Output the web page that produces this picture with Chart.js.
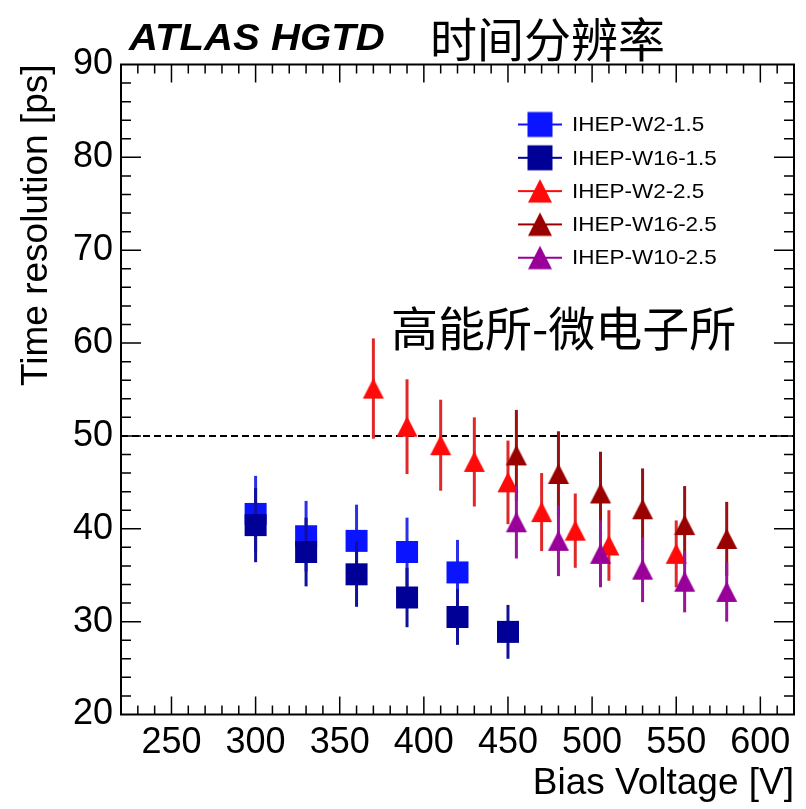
<!DOCTYPE html>
<html>
<head>
<meta charset="utf-8">
<script src="https://cdn.jsdelivr.net/npm/chart.js@4.4.0/dist/chart.umd.min.js"></script>
<style>
  html, body { margin: 0; padding: 0; background: #fff; }
  #wrap { width: 806px; height: 809px; }
</style>
</head>
<body>
<div id="wrap"><canvas id="myChart" width="806" height="809"></canvas></div>
<script>
  /////////////////////////////////////
 /*              DATA               */
/////////////////////////////////////

var seriesNames = ["IHEP-W2-1.5", "IHEP-W16-1.5", "IHEP-W2-2.5", "IHEP-W16-2.5", "IHEP-W10-2.5"];

var w2_15_V = [300, 330, 360, 390, 420];
var w2_15_T = [41.6, 39.2, 38.7, 37.5, 35.3];
var w2_15_E = [4.1, 3.8, 3.9, 3.7, 3.5];

var w16_15_V = [300, 330, 360, 390, 420, 450];
var w16_15_T = [40.4, 37.5, 35.1, 32.6, 30.5, 28.9];
var w16_15_E = [4.0, 3.7, 3.5, 3.2, 3.0, 2.9];

var w2_25_V = [370, 390, 410, 430, 450, 470, 490, 510, 550];
var w2_25_T = [55.1, 51.0, 49.0, 47.2, 45.0, 41.8, 39.8, 38.2, 37.3];
var w2_25_E = [5.4, 5.1, 4.9, 4.8, 4.5, 4.2, 4.0, 3.8, 3.6];

var w16_25_V = [455, 480, 505, 530, 555, 580];
var w16_25_T = [47.9, 45.9, 43.8, 42.1, 40.4, 38.9];
var w16_25_E = [4.9, 4.6, 4.5, 4.4, 4.2, 4.0];

var w10_25_V = [455, 480, 505, 530, 555, 580];
var w10_25_T = [40.7, 38.7, 37.3, 35.6, 34.3, 33.2];
var w10_25_E = [3.9, 3.8, 3.6, 3.5, 3.3, 3.2];

var xTicks = [250, 300, 350, 400, 450, 500, 550, 600];
var yTicks = [20, 30, 40, 50, 60, 70, 80, 90];
var limitLine = 50;

  /////////////////////////////////////
 /*         MARKER IMAGES           */
/////////////////////////////////////

function makeMarker(shape, color, withLine, big) {
  var s = big ? 12.5 : 11;
  var w = withLine ? 44 : 26, h = 28;
  var c = document.createElement('canvas');
  c.width = w; c.height = h;
  var g = c.getContext('2d');
  var cx = w / 2, cy = h / 2;
  if (withLine) {
    g.strokeStyle = color;
    g.lineWidth = 2;
    g.beginPath(); g.moveTo(0, cy); g.lineTo(w, cy); g.stroke();
  }
  g.fillStyle = color;
  if (shape == 'square') {
    g.fillRect(cx - s, cy - s, 2 * s, 2 * s);
  } else {
    g.beginPath();
    g.moveTo(cx, cy - s + 0.5);
    g.lineTo(cx + s - 0.5, cy + s - 1);
    g.lineTo(cx - s + 0.5, cy + s - 1);
    g.closePath();
    g.fill();
  }
  return c;
}

var colors = ['#0a14ff', '#000096', '#ff0a0a', '#990000', '#990099'];
var barColors = ['#2a30e8', '#10109a', '#e02828', '#9a1010', '#9a149a'];
var shapes = ['square', 'square', 'triangle', 'triangle', 'triangle'];
var allV = [w2_15_V, w16_15_V, w2_25_V, w16_25_V, w10_25_V];
var allT = [w2_15_T, w16_15_T, w2_25_T, w16_25_T, w10_25_T];
var allE = [w2_15_E, w16_15_E, w2_25_E, w16_25_E, w10_25_E];

var datasets = [];
for (var i = 0; i < seriesNames.length; i++) {
  var pts = [];
  for (var j = 0; j < allV[i].length; j++) {
    pts.push({x: allV[i][j], y: allT[i][j], e: allE[i][j]});
  }
  datasets.push({
    label: seriesNames[i],
    data: pts,
    pointStyle: makeMarker(shapes[i], colors[i], false, false),
    legendStyle: makeMarker(shapes[i], colors[i], true, true),
    barColor: barColors[i],
    borderColor: colors[i],
    backgroundColor: colors[i],
    showLine: false,
    order: seriesNames.length - i
  });
}

  /////////////////////////////////////
 /*     ERROR BARS / FRAME PLUGIN    */
/////////////////////////////////////

// draws text squeezed/stretched horizontally (ROOT fonts look wider)
function wideText(ctx, txt, x, y, sx) {
  ctx.save();
  ctx.translate(x, y);
  ctx.scale(sx, 1);
  ctx.fillText(txt, 0, 0);
  ctx.restore();
}

var rootStyle = {
  id: 'rootStyle',
  beforeDatasetDraw: function(chart, args) {
    var ctx = chart.ctx;
    var ds = chart.data.datasets[args.index];
    var xs = chart.scales.x, ys = chart.scales.y;
    ctx.save();
    ctx.strokeStyle = ds.barColor;
    ctx.lineWidth = 3;
    for (var k = 0; k < ds.data.length; k++) {
      var p = ds.data[k];
      var px = xs.getPixelForValue(p.x);
      ctx.beginPath();
      ctx.moveTo(px, ys.getPixelForValue(p.y + p.e));
      ctx.lineTo(px, ys.getPixelForValue(p.y - p.e));
      ctx.stroke();
    }
    ctx.restore();
  },
  beforeDatasetsDraw: function(chart) {
    var ctx = chart.ctx, a = chart.chartArea;
    var ys = chart.scales.y;
    // dashed 50 ps line
    ctx.save();
    ctx.strokeStyle = '#000';
    ctx.lineWidth = 2;
    ctx.setLineDash([7, 4]);
    var py = ys.getPixelForValue(limitLine);
    ctx.beginPath(); ctx.moveTo(a.left, py); ctx.lineTo(a.right, py); ctx.stroke();
    ctx.restore();
  },
  afterDraw: function(chart) {
    var ctx = chart.ctx, a = chart.chartArea;
    var xs = chart.scales.x, ys = chart.scales.y;
    ctx.save();
    ctx.strokeStyle = '#000';
    // ticks
    ctx.lineWidth = 1.5;
    ctx.beginPath();
    for (var v = 230; v <= 620; v += 10) {
      var px = xs.getPixelForValue(v);
      var len = (v % 50 == 0) ? 18 : 9;
      ctx.moveTo(px, a.bottom); ctx.lineTo(px, a.bottom - len);
      ctx.moveTo(px, a.top); ctx.lineTo(px, a.top + len);
    }
    for (var t = 22; t < 90; t += 2) {
      var py = ys.getPixelForValue(t);
      var ylen = (t % 10 == 0) ? 20 : 10;
      ctx.moveTo(a.left, py); ctx.lineTo(a.left + ylen, py);
      ctx.moveTo(a.right, py); ctx.lineTo(a.right - ylen, py);
    }
    ctx.stroke();
    // frame
    ctx.lineWidth = 2;
    ctx.strokeRect(a.left, a.top, a.right - a.left, a.bottom - a.top);

    // legend
    var lx = 540, ly = 124.5, step = 33.3;
    chart.data.datasets.forEach(function(ds, n) {
      var img = ds.legendStyle;
      var y = ly + n * step;
      ctx.drawImage(img, lx - img.width / 2, y - img.height / 2);
      ctx.fillStyle = '#000';
      ctx.font = '21px "Liberation Sans", Arial, sans-serif';
      ctx.textBaseline = 'middle';
      ctx.textAlign = 'left';
      wideText(ctx, ds.label, 572, y + 1, 1.07);
    });

    // labels
    ctx.fillStyle = '#000';
    ctx.textBaseline = 'alphabetic';
    ctx.font = 'italic bold 37px "Liberation Sans", Arial, sans-serif';
    wideText(ctx, 'ATLAS HGTD', 129, 50, 1.085);
    ctx.textBaseline = 'middle';
    ctx.font = '47px "Noto Sans CJK SC", sans-serif';
    ctx.fillText('时间分辨率', 430, 39);
    ctx.font = '47px "Noto Sans CJK SC", sans-serif';
    ctx.fillText('高能所-微电子所', 391, 328);
    ctx.restore();
  }
};

  /////////////////////////////////////
 /*             CHART               */
/////////////////////////////////////

var tickFont = {family: '"Liberation Sans", Arial, sans-serif', size: 36};
var titleFont = {family: '"Liberation Sans", Arial, sans-serif', size: 37};

var ctx = document.getElementById('myChart').getContext('2d');
var chart = new Chart(ctx, {
  type: 'scatter',
  data: { datasets: datasets },
  options: {
    responsive: false,
    animation: false,
    events: [],
    layout: { padding: { top: 64.5, right: 11, left: 0, bottom: 0 } },
    plugins: { legend: { display: false }, tooltip: { enabled: false } },
    elements: { point: { radius: 11 } },
    scales: {
      x: {
        type: 'linear',
        min: 220, max: 620,
        afterBuildTicks: function(s) { s.ticks = xTicks.map(function(v) { return {value: v}; }); },
        afterFit: function(s) { s.height = 94.5; },
        grid: { display: false, drawTicks: false },
        border: { display: false },
        ticks: { font: tickFont, color: '#000', padding: 7, maxRotation: 0, autoSkip: false },
        title: { display: true, text: 'Bias Voltage [V]', align: 'end', font: titleFont, color: '#000', padding: { top: 0, bottom: 3 } }
      },
      y: {
        type: 'linear',
        min: 20, max: 90,
        afterBuildTicks: function(s) { s.ticks = yTicks.map(function(v) { return {value: v}; }); },
        afterFit: function(s) { s.width = 121; },
        grid: { display: false, drawTicks: false },
        border: { display: false },
        ticks: { font: tickFont, color: '#000', padding: 8, autoSkip: false },
        title: { display: true, text: 'Time resolution [ps]', align: 'end', font: titleFont, color: '#000', padding: { top: 15, bottom: 0 } }
      }
    }
  },
  plugins: [rootStyle]
});
</script>
</body>
</html>
